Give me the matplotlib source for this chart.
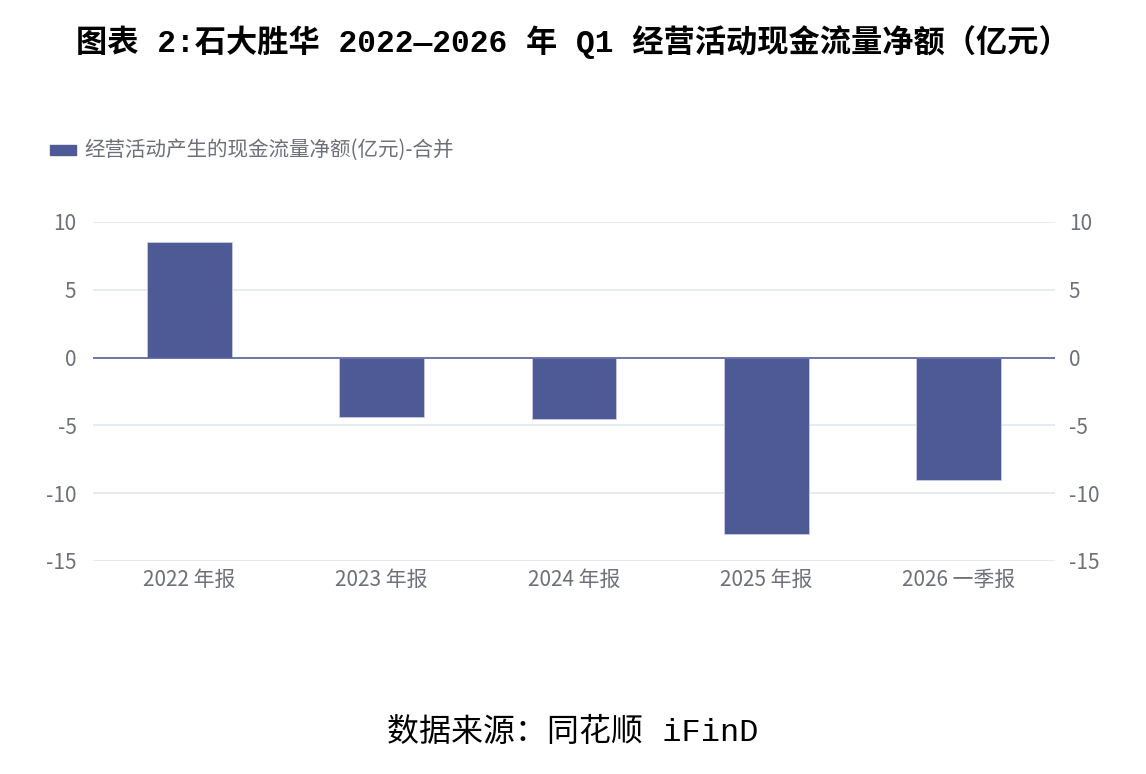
import matplotlib
matplotlib.use("Agg")
import matplotlib.pyplot as plt
from matplotlib.patches import Rectangle

plt.rcParams['font.family'] = ['Noto Sans CJK SC', 'DejaVu Sans']
plt.rcParams['axes.unicode_minus'] = False

categories = ["2022 年报", "2023 年报", "2024 年报", "2025 年报", "2026 一季报"]
values = [8.5, -4.35, -4.5, -13.0, -9.05]
yticks = [-15, -10, -5, 0, 5, 10]
series_name = "经营活动产生的现金流量净额(亿元)-合并"
title = "图表 2:石大胜华 2022—2026 年 Q1 经营活动现金流量净额（亿元）"
source = "数据来源：同花顺 iFinD"

bar_color = "#4d5a96"
grid_color = "#e0e6f1"
label_color = "#6e7079"
serif_mix = ['Liberation Mono', 'Noto Sans CJK SC']

fig = plt.figure(figsize=(11.46, 7.74), dpi=100)
ax = fig.add_axes([0.0812, 0.2752, 0.8394, 0.438])

x = list(range(len(categories)))
ax.bar(x, values, width=0.44, color=bar_color, edgecolor="#c8cde6", linewidth=0.6, zorder=3)
ax.set_xlim(-0.5, len(categories) - 0.5)
ax.set_ylim(-15, 10)
ax.set_yticks(yticks)
ax.set_xticks(x)
ax.set_xticklabels(categories, fontsize=15, color=label_color)
ax.tick_params(axis='x', length=0, pad=6)
ax.tick_params(axis='y', length=0, pad=12, labelsize=15, labelcolor=label_color)
ax.grid(axis='y', color=grid_color, linewidth=1.2, zorder=0)
ax.axhline(0, color="#5764a0", linewidth=1.2, zorder=4)
for s in ax.spines.values():
    s.set_visible(False)

ax2 = ax.twinx()
ax2.set_ylim(ax.get_ylim())
ax2.set_yticks(yticks)
ax2.tick_params(axis='y', length=0, pad=10, labelsize=15, labelcolor=label_color)
for s in ax2.spines.values():
    s.set_visible(False)

# legend
fig.patches.append(Rectangle((50 / 1146, 1 - 155 / 774), 26 / 1146, 10 / 774,
                             transform=fig.transFigure, color=bar_color, figure=fig))
fig.text(84 / 1146, 1 - 150 / 774, series_name, fontsize=14.8, color=label_color,
         ha='left', va='center')

fig.text(0.5, 1 - 42 / 774, title, fontsize=22.5, fontweight='semibold', color='black',
         ha='center', va='center', family=serif_mix)
fig.text(0.5, 1 - 733 / 774, source, fontsize=23, color='black', ha='center', va='center',
         family=serif_mix)

fig.savefig("out.png", dpi=100)
